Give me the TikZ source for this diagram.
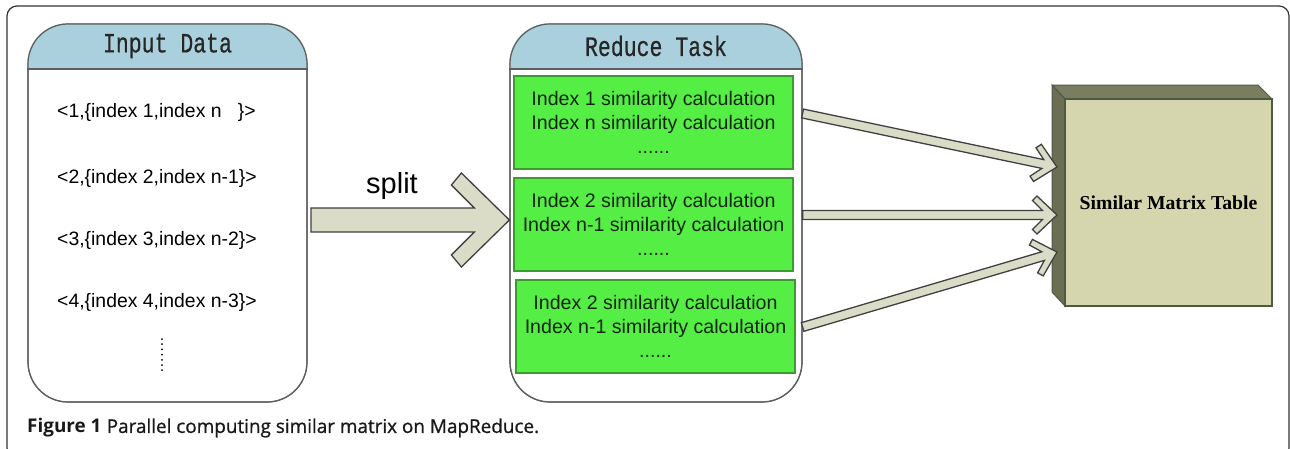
\documentclass[tikz,border=0pt]{standalone}
\usepackage{fontspec}
\setmainfont{Liberation Sans}
\newfontfamily\hdrfont{Liberation Mono}[FakeBold=0.6]
\newfontfamily\boxfont{Liberation Serif}
\newfontfamily\capfont{Open Sans}
\newfontfamily\capmed{Open Sans}[FakeBold=0.9]
\usetikzlibrary{calc}
\definecolor{hdrblue}{HTML}{A9D0DC}
\definecolor{grn}{HTML}{55EE44}
\definecolor{grnline}{HTML}{3C9A30}
\definecolor{txtgrn}{HTML}{102410}
\definecolor{arrfill}{HTML}{DADCC8}
\definecolor{arrline}{HTML}{404040}
\definecolor{olivedark}{HTML}{7B7D60}
\definecolor{oliveside}{HTML}{6C6E54}
\definecolor{olivefront}{HTML}{D5D6AE}
\definecolor{oliveline}{HTML}{4C5A44}
\definecolor{panelline}{HTML}{5E5E5E}
\tikzset{
  panel/.style={draw=panelline, line width=1.2pt, rounded corners=40pt, inner sep=0pt},
  greenbox/.style={draw=grnline, fill=grn, line width=1.2pt, minimum width=279pt, minimum height=93pt,
     inner sep=0pt, align=center, text=txtgrn, font=\fontsize{19.6}{24}\selectfont},
  item/.style={anchor=west, inner sep=0pt, font=\fontsize{19.4}{21}\selectfont},
  hdr/.style={font=\hdrfont\fontsize{21.5}{24}\selectfont, text=black!85, inner sep=0pt},
  blk/.style={draw=arrline, fill=arrfill, line width=1.3pt, line join=miter},
}
\newcommand\blockarrow[8]{%
 \draw[blk] let \p1=($(#2)-(#1)$), \n1={atan2(\y1,\x1)} in
  ([shift={(#1)},rotate=\n1]0,#3) -- ([shift={(#2)},rotate=\n1]-#4,#3)
  -- ([shift={(#2)},rotate=\n1]-#7,#8) -- ([shift={(#2)},rotate=\n1]-#5,#6)
  -- (#2)
  -- ([shift={(#2)},rotate=\n1]-#5,-#6) -- ([shift={(#2)},rotate=\n1]-#7,-#8)
  -- ([shift={(#2)},rotate=\n1]-#4,-#3) -- ([shift={(#1)},rotate=\n1]0,-#3) -- cycle;}
\begin{document}
\begin{tikzpicture}[x=1pt,y=-1pt]
\useasboundingbox (0,0) rectangle (1290,448);
% outer frame
\draw[line width=1.2pt, black!80, rounded corners=10pt] (7,6) rectangle (1289,458);

% Input Data panel
\node[panel, minimum width=279pt, minimum height=378pt] (inbox) at (167.5,213) {};
\begin{scope}
  \clip[rounded corners=40pt] (inbox.north west) rectangle (inbox.south east);
  \fill[hdrblue] (inbox.north west) rectangle (307,69);
\end{scope}
\node[panel, minimum width=279pt, minimum height=378pt] at (inbox.center) {};
\draw[panelline, line width=1.2pt] (inbox.west |- 0,69) -- (inbox.east |- 0,69);
\node[hdr] (inhdr) at (167.5,46) {\scalebox{1}[1.3]{Input Data}};

\node[item] (i1) at (57,112) {<1,\{index 1,index n\ \ \ \}>};
\node[item] (i2) at (57,178) {<2,\{index 2,index n-1\}>};
\node[item] (i3) at (57,240) {<3,\{index 3,index n-2\}>};
\node[item] (i4) at (57,302) {<4,\{index 4,index n-3\}>};
\draw[line width=2pt, line cap=round, dash pattern=on 0pt off 5.2pt] (162,339) -- (162,371);

% Reduce Task panel
\node[panel, minimum width=292pt, minimum height=378pt] (rbox) at (656,213) {};
\begin{scope}
  \clip[rounded corners=40pt] (rbox.north west) rectangle (rbox.south east);
  \fill[hdrblue] (rbox.north west) rectangle (802,69);
\end{scope}
\node[panel, minimum width=292pt, minimum height=378pt] at (rbox.center) {};
\draw[panelline, line width=1.2pt] (rbox.west |- 0,69) -- (rbox.east |- 0,69);
\node[hdr] (rhdr) at (656,46) {\scalebox{1}[1.3]{Reduce Task}};

\node[greenbox] (g1) at (653.5,122.5) {Index 1 similarity calculation\\Index n similarity calculation\\......};
\node[greenbox] (g2) at (653.5,224.5) {Index 2 similarity calculation\\Index n-1 similarity calculation\\......};
\node[greenbox] (g3) at (655.5,326.5) {Index 2 similarity calculation\\Index n-1 similarity calculation\\......};

% 3D box
\fill[olivedark, draw=oliveline, line width=1pt] (1052,85) -- (1258,85) -- (1272,99) -- (1065,99) -- cycle;
\fill[oliveside, draw=oliveline, line width=1pt] (1052,85) -- (1065,99) -- (1065,306) -- (1052,292) -- cycle;
\node[draw=oliveline, fill=olivefront, line width=1.2pt, minimum width=207pt, minimum height=207pt, inner sep=0pt,
      font=\boxfont\bfseries\fontsize{19.7}{22}\selectfont] (smt) at (1168.5,202.5) {Similar Matrix Table};

% split arrow
\coordinate (ss) at (311,220);
\coordinate (st) at (rbox.west |- 0,220);
\blockarrow{ss}{st}{12}{35}{48}{47}{58}{35}
\node[font=\fontsize{29}{32}\selectfont, inner sep=0pt] (splitlbl) at (392,186) {split};

% arrows to table
\coordinate (s1) at (rbox.east |- 0,113.5);
\coordinate (s2) at (rbox.east |- 0,215);
\coordinate (s3) at (rbox.east |- 0,327);
\coordinate (t1) at (1057,167);
\coordinate (t2) at (1057,215);
\coordinate (t3) at (1057,252);
\blockarrow{s1}{t1}{4.5}{14.5}{20}{19}{24.5}{14.5}
\blockarrow{s2}{t2}{4.5}{14.5}{20}{19}{24.5}{14.5}
\blockarrow{s3}{t3}{4.5}{14.5}{20}{19}{24.5}{14.5}

% caption
\node[anchor=west, inner sep=0pt, font=\fontsize{18.9}{22}\selectfont, text=black!90] (cap) at (27,428)
  {{\capfont\bfseries Figure 1} {\capmed Parallel computing similar matrix on MapReduce.}};
\end{tikzpicture}
\end{document}
